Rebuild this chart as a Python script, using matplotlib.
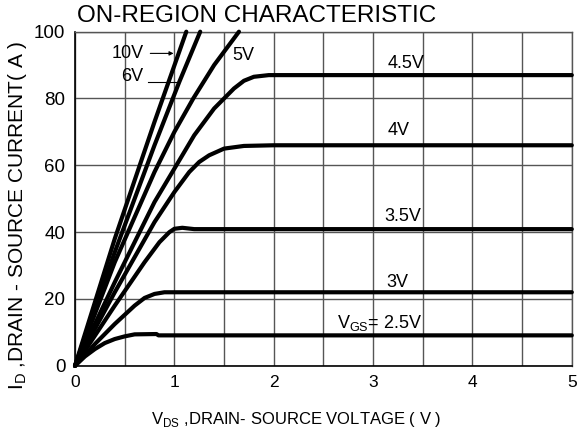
import matplotlib
matplotlib.use("Agg")
import matplotlib.pyplot as plt

### Font setup: Arial-like look
plt.rcParams["font.family"] = ["Liberation Sans", "DejaVu Sans"]
plt.rcParams["mathtext.fontset"] = "custom"
plt.rcParams["mathtext.rm"] = "Liberation Sans"

### Curves (V_DS in V, I_D in A)
vgs_10_x = [0, 0.4, 0.8, 1.12]
vgs_10_y = [0, 38, 73, 100]

vgs_6_x = [0, 0.4, 0.8, 1.05, 1.26]
vgs_6_y = [0, 34, 66, 85, 100]

vgs_5_x = [0, 0.4, 0.8, 1.0, 1.19, 1.4, 1.65]
vgs_5_y = [0, 31, 58, 70, 80, 90, 100]

vgs_45_x = [0, 0.4, 0.8, 1.0, 1.2, 1.4, 1.5, 1.6, 1.7, 1.8, 1.95, 5]
vgs_45_y = [0, 25, 49, 59, 69, 77, 80, 83, 85.3, 86.5, 87, 87]

vgs_4_x = [0, 0.4, 0.8, 1.0, 1.15, 1.25, 1.35, 1.5, 1.7, 2.0, 5]
vgs_4_y = [0, 22, 43, 52, 58, 61, 63, 65, 65.8, 66, 66]

vgs_35_x = [0, 0.4, 0.7, 0.85, 0.95, 1.0, 1.08, 1.2, 5]
vgs_35_y = [0, 18, 31, 37, 40, 41, 41.3, 40.9, 40.9]

vgs_3_x = [0, 0.2, 0.4, 0.6, 0.7, 0.8, 0.9, 5]
vgs_3_y = [0, 6.5, 12.5, 18, 20.3, 21.5, 22, 22]

vgs_25_x = [0, 0.1, 0.2, 0.3, 0.4, 0.5, 0.6, 0.82, 0.84, 5]
vgs_25_y = [0, 2.8, 5, 6.8, 8, 8.8, 9.4, 9.5, 9.1, 9.1]

x_ticks = [0, 1, 2, 3, 4, 5]
y_ticks = [0, 20, 40, 60, 80, 100]


def draw_chart(path="out.png"):
    fig = plt.figure(figsize=(5.77, 4.37), dpi=100)
    ax = fig.add_axes([0.130, 0.163, 0.861, 0.7645])

    ax.set(xlim=[0, 5], ylim=[0, 100])

    # Grid every 0.5 V and every 20 A
    ax.set_xticks(x_ticks)
    ax.set_xticks([0.5, 1.5, 2.5, 3.5, 4.5], minor=True)
    ax.set_yticks(y_ticks)
    ax.grid(True, which="both", color="#555555", linewidth=1)
    ax.tick_params(which="both", length=0)
    ax.tick_params(axis="x", pad=7, labelsize=12.5)
    ax.tick_params(axis="y", pad=7, labelsize=13.5)

    for side in ["top", "right"]:
        ax.spines[side].set_color("#555555")
        ax.spines[side].set_linewidth(1)
    for side in ["left", "bottom"]:
        ax.spines[side].set_color("black")
        ax.spines[side].set_linewidth(1.2)

    # Plot every V_GS curve
    curves = [(vgs_10_x, vgs_10_y), (vgs_6_x, vgs_6_y), (vgs_5_x, vgs_5_y),
              (vgs_45_x, vgs_45_y), (vgs_4_x, vgs_4_y), (vgs_35_x, vgs_35_y),
              (vgs_3_x, vgs_3_y), (vgs_25_x, vgs_25_y)]
    for xs, ys in curves:
        ax.plot(xs, ys, color="black", lw=3, solid_capstyle="round",
                solid_joinstyle="round", clip_on=False, zorder=3)

    # Curve labels
    ax.text(0.37, 93.5, "10V", fontsize=13, ha="left", va="center")
    ax.annotate("", xy=(1.02, 93.5), xytext=(0.73, 93.5),
                arrowprops=dict(arrowstyle="-|>", color="black", lw=0.8,
                                mutation_scale=6))
    ax.text(0.46, 86.5, "6V", fontsize=13, ha="left", va="center")
    ax.plot([0.73, 1.05], [85, 85], color="black", lw=0.8)
    ax.text(1.69, 93, "5V", fontsize=13, ha="center", va="center")
    ax.text(3.33, 90.6, "4.5V", fontsize=13, ha="center", va="center")
    ax.text(3.26, 70.5, "4V", fontsize=13, ha="center", va="center")
    ax.text(3.3, 44.8, "3.5V", fontsize=13, ha="center", va="center")
    ax.text(3.24, 24.8, "3V", fontsize=13, ha="center", va="center")
    ax.text(3.07, 12.8, r"V$_{\rm GS}$= 2.5V", fontsize=13, ha="center", va="center")

    # Title and axis labels
    fig.text(0.133, 0.963, "ON-REGION CHARACTERISTIC", fontsize=17.5, ha="left", va="center")
    fig.text(0.513, 0.039, r"V$_{\rm DS}$ ,DRAIN- SOURCE VOLTAGE ( V )",
             fontsize=12, ha="center", va="center")
    fig.text(0.03, 0.508, r"I$_{\rm D}$ ,DRAIN - SOURCE CURRENT( A )",
             fontsize=15, ha="center", va="center", rotation=90)

    fig.savefig(path, dpi=100)


if __name__ == "__main__":
    draw_chart()
